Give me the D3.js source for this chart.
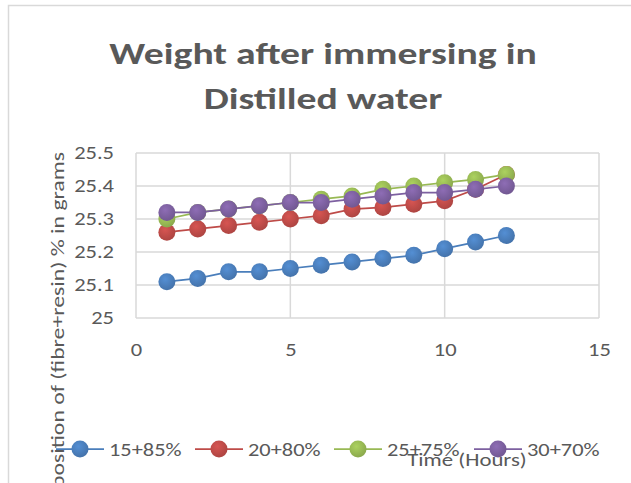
<!DOCTYPE html>
<html>
<head>
<meta charset="utf-8">
<script src="https://cdn.jsdelivr.net/npm/d3@7"></script>
<style>
  body { margin: 0; background: #fff; }
  svg { display: block; font-family: Carlito, Lato, "Open Sans", sans-serif; }
</style>
</head>
<body>
<svg id="chart" width="631" height="483"></svg>
<script>
// Data
const hours = [1, 2, 3, 4, 5, 6, 7, 8, 9, 10, 11, 12];
const s15_85 = [25.11, 25.12, 25.14, 25.14, 25.15, 25.16, 25.17, 25.18, 25.19, 25.21, 25.23, 25.25];
const s20_80 = [25.26, 25.27, 25.28, 25.29, 25.30, 25.31, 25.33, 25.335, 25.345, 25.355, 25.39, 25.435];
const s25_75 = [25.30, 25.32, 25.33, 25.34, 25.35, 25.36, 25.37, 25.39, 25.40, 25.41, 25.42, 25.435];
const s30_70 = [25.32, 25.32, 25.33, 25.34, 25.35, 25.35, 25.36, 25.37, 25.38, 25.38, 25.39, 25.40];
const seriesNames = ["15+85%", "20+80%", "25+75%", "30+70%"];
const seriesColors = ["#4A7EBB", "#BE4B48", "#98B954", "#7D60A0"];
const xTicks = [0, 5, 10, 15];
const yTicks = [25, 25.1, 25.2, 25.3, 25.4, 25.5];

const series = [s15_85, s20_80, s25_75, s30_70].map((vals, i) => ({
    name: seriesNames[i],
    color: seriesColors[i],
    points: vals.map((v, j) => ({ x: hours[j], y: v }))
}));

const svg = d3.select("#chart");
const textColor = "#595959";
const gridColor = "#D9D9D9";
// the original picture is stretched sideways, so text gets a horizontal scale
const stretch = 1.25;

// helper: place a text at (x, y) with horizontal stretch
function addText(parent, x, y, str, size, opts = {}) {
    const sx = opts.sx || stretch;
    const rot = opts.rotate ? ` rotate(${opts.rotate})` : "";
    return parent.append("text")
        .attr("transform", `translate(${x},${y})${rot} scale(${sx},1)`)
        .attr("text-anchor", opts.anchor || "start")
        .attr("fill", textColor)
        .style("font-size", size + "px")
        .style("font-weight", opts.bold ? "bold" : null)
        .text(str);
}

// chart frame
svg.append("rect")
    .attr("x", 8.5).attr("y", 5.5)
    .attr("width", 640).attr("height", 500)
    .attr("fill", "#fff")
    .attr("stroke", gridColor)
    .attr("stroke-width", 1.5);

// title
addText(svg, 323, 64, "Weight after immersing in", 31, { anchor: "middle", bold: true, sx: 1.28 });
addText(svg, 323, 109, "Distilled water", 31, { anchor: "middle", bold: true, sx: 1.28 });

const plot = { left: 136, right: 599, top: 153, bottom: 318 };

const x = d3.scaleLinear().domain([0, 15]).range([plot.left, plot.right]);
const y = d3.scaleLinear().domain([25, 25.5]).range([plot.bottom, plot.top]);

// gridlines
svg.append("g")
    .selectAll("line")
    .data(yTicks)
    .enter()
    .append("line")
    .attr("x1", plot.left).attr("x2", plot.right)
    .attr("y1", d => y(d)).attr("y2", d => y(d))
    .attr("stroke", gridColor).attr("stroke-width", 1.5);

svg.append("g")
    .selectAll("line")
    .data(xTicks)
    .enter()
    .append("line")
    .attr("x1", d => x(d)).attr("x2", d => x(d))
    .attr("y1", plot.top).attr("y2", plot.bottom)
    .attr("stroke", gridColor).attr("stroke-width", 1.5);

// axes (labels only)
const yAxis = d3.axisLeft(y).tickValues(yTicks).tickSize(0).tickPadding(22 / stretch)
    .tickFormat(d => d3.format("")(+d.toFixed(1)));
svg.append("g")
    .attr("transform", `translate(${plot.left},0)`)
    .call(yAxis)
    .call(g => g.select(".domain").remove())
    .selectAll("text")
    .attr("fill", textColor)
    .attr("transform", `scale(${stretch},1)`)
    .style("font-size", "18px")
    .style("font-family", "Carlito, Lato, sans-serif");

const xAxis = d3.axisBottom(x).tickValues(xTicks).tickSize(0).tickPadding(25);
svg.append("g")
    .attr("transform", `translate(0,${plot.bottom})`)
    .call(xAxis)
    .call(g => g.select(".domain").remove())
    .selectAll("text")
    .attr("fill", textColor)
    .attr("transform", `scale(${stretch},1)`)
    .style("font-size", "18px")
    .style("font-family", "Carlito, Lato, sans-serif");

// marker shading
const defs = svg.append("defs");
series.forEach((s, i) => {
    const grad = defs.append("radialGradient")
        .attr("id", "mk" + i)
        .attr("cx", "40%").attr("cy", "35%").attr("r", "65%");
    grad.append("stop").attr("offset", "0%").attr("stop-color", d3.color(s.color).brighter(0.35));
    grad.append("stop").attr("offset", "100%").attr("stop-color", d3.color(s.color).darker(0.25));
});

const line = d3.line().x(d => x(d.x)).y(d => y(d.y));

series.forEach((s, i) => {
    const g = svg.append("g");
    g.append("path")
        .datum(s.points)
        .attr("d", line)
        .attr("fill", "none")
        .attr("stroke", s.color)
        .attr("stroke-width", 1.75);
    g.selectAll("circle")
        .data(s.points)
        .enter()
        .append("circle")
        .attr("cx", d => x(d.x))
        .attr("cy", d => y(d.y))
        .attr("r", 8.5)
        .attr("fill", `url(#mk${i})`);
});

// y axis title (runs past the bottom edge, as in the original)
addText(svg, 64, 152, "Composition of (fibre+resin) % in grams", 19, { anchor: "end", rotate: -90, sx: 1.25 });

// legend
const legendX = [80, 219, 358, 498];
const legendY = 449;
const legend = svg.append("g");
series.forEach((s, i) => {
    const g = legend.append("g").attr("transform", `translate(${legendX[i]},${legendY})`);
    g.append("line")
        .attr("x1", -24).attr("x2", 24)
        .attr("stroke", s.color).attr("stroke-width", 1.75);
    g.append("circle").attr("r", 8.5).attr("fill", `url(#mk${i})`);
    addText(g, 29, 7, s.name, 19, { sx: 1.18 });
});

// x axis title, drawn over the legend like the original
addText(svg, 467, 466, "Time (Hours)", 19, { anchor: "middle", sx: 1.2 });
</script>
</body>
</html>
